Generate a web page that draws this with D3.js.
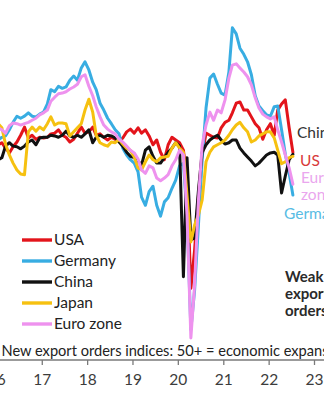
<!DOCTYPE html>
<html>
<head>
<meta charset="utf-8">
<script src="https://cdn.jsdelivr.net/npm/d3@7"></script>
<style>
  body { margin: 0; background: #fff; }
  svg { display: block; font-family: Lato, "Open Sans", sans-serif; }
</style>
</head>
<body>
<svg id="chart" width="324" height="400"></svg>
<script>
// Monthly new export orders PMI sub-indices, Jan 2016 – Jul 2022
const startYear = 2016;
const yearTicks = ["16", "17", "18", "19", "20", "21", "22", "23"];

const usa = [49.3,49.6,48.8,48.1,49.0,49.7,50.7,51.9,50.3,50.7,50.1,50.4,
  50.3,50.4,50.9,51.0,51.5,50.7,50.4,49.7,50.1,51.0,51.9,51.0,
  51.2,51.9,50.7,50.9,50.4,50.0,50.4,50.1,49.9,50.3,51.2,51.6,
  51.0,51.8,51.0,51.5,50.6,49.3,50.0,48.2,47.1,49.3,50.4,50.0,
  49.6,48.5,44.4,28.2,33.8,41.9,47.8,51.0,50.7,50.4,50.3,51.8,
  52.6,52.9,54.0,55.4,55.6,54.4,54.4,53.4,52.4,51.8,50.1,51.5,
  52.4,50.7,54.4,55.3,55.9,51.8,48.2];

const germany = [50.0,50.4,50.6,51.5,52.6,53.5,53.2,53.5,54.0,53.5,53.4,53.8,
  54.1,55.3,57.4,57.1,57.9,57.6,57.8,58.8,59.4,58.8,60.6,61.5,
  60.3,58.5,57.4,55.4,54.4,53.2,52.4,51.5,50.9,48.8,47.8,47.1,
  46.6,45.3,41.6,40.4,42.4,43.2,40.4,38.8,40.9,41.5,42.9,44.1,
  46.2,46.6,39.0,22.1,27.9,37.5,47.1,54.7,59.1,59.7,58.2,56.9,
  56.6,60.0,66.5,65.6,63.5,62.6,61.5,59.6,56.5,55.0,54.3,53.7,
  53.5,54.9,55.0,51.5,47.9,45.1,41.9];

const china = [47.1,47.4,49.1,49.6,49.1,49.0,48.7,49.1,49.7,50.0,49.3,50.3,
  50.4,50.4,50.7,50.6,50.4,50.7,51.3,50.6,50.4,50.7,50.4,50.9,
  51.5,49.6,50.4,50.7,50.4,50.7,50.6,50.3,49.7,49.1,48.2,47.6,
  47.4,46.9,46.3,48.5,49.0,47.6,46.6,46.6,47.4,48.2,48.8,49.6,
  49.1,29.9,47.4,35.3,35.6,42.6,48.2,49.3,50.0,50.4,50.7,50.0,
  49.4,49.6,50.0,50.0,48.8,48.1,47.5,46.9,46.2,46.6,47.2,47.8,
  48.1,48.2,47.8,42.2,44.7,47.1,47.9];

const japan = [52.4,51.8,49.4,47.8,46.6,45.6,45.0,44.9,51.2,51.9,51.3,51.9,
  51.5,52.4,53.4,52.2,52.5,52.5,52.4,50.6,51.2,51.8,52.4,54.4,
  56.0,54.1,50.7,49.6,49.3,49.1,49.7,49.6,50.1,49.4,48.8,48.5,
  47.5,45.9,45.6,46.8,47.8,47.1,46.8,47.4,47.5,47.6,48.8,49.6,
  48.8,48.2,41.9,35.0,37.5,39.0,41.2,46.8,48.2,49.0,49.3,49.6,
  50.0,50.7,51.5,52.2,52.6,51.8,51.2,49.7,50.0,50.6,50.9,51.2,
  51.2,50.3,48.5,46.5,46.8,47.4,47.6];

const euroZone = [51.8,51.5,51.0,52.1,52.5,52.4,52.2,52.4,52.6,52.9,53.2,53.7,
  54.0,54.4,55.7,56.3,56.8,56.9,57.1,57.5,57.8,58.2,59.3,59.6,
  57.9,56.5,54.9,53.4,52.2,51.6,51.2,50.9,50.1,49.7,49.1,48.5,
  48.1,47.2,45.6,45.1,46.2,45.9,44.4,44.0,44.4,44.9,46.2,47.1,
  48.5,47.8,39.0,20.9,28.7,41.2,49.3,52.2,54.1,52.9,54.4,54.0,
  55.9,59.1,61.0,61.2,60.6,60.0,59.3,58.1,56.2,54.7,53.8,53.4,
  53.1,53.4,51.5,49.7,47.8,45.9,43.5];

const seriesNames = ["USA", "Germany", "China", "Japan", "Euro zone"];
const seriesColors = ["#e3141b", "#38ade2", "#111111", "#f6c110", "#ee92ee"];
const seriesValues = [usa, germany, china, japan, euroZone];

// monthly points plotted mid-month
const dates = usa.map((_, i) => new Date(startYear, i, 15));

const svg = d3.select("#chart");

const x = d3.scaleTime()
  .domain([new Date(2016, 0, 1), new Date(2023, 0, 1)])
  .range([-3.7, 314]);
const y = d3.scaleLinear().domain([20, 70]).range([344, 4]);

const line = d3.line()
  .x((d, i) => x(dates[i]))
  .y(d => y(d));

// series lines
svg.append("g")
  .selectAll("path")
  .data(seriesValues)
  .join("path")
  .attr("d", line)
  .attr("fill", "none")
  .attr("stroke", (d, i) => seriesColors[i])
  .attr("stroke-width", 3)
  .attr("stroke-linejoin", "round")
  .attr("stroke-linecap", "round");

// x axis
const axisY = 360;
const xAxis = d3.axisBottom(x)
  .tickValues(yearTicks.map((t, i) => new Date(startYear + i, 0, 1)))
  .tickFormat((d, i) => yearTicks[i])
  .tickSize(5)
  .tickSizeOuter(0);

const gx = svg.append("g").attr("transform", `translate(0,${axisY})`).call(xAxis);
gx.select(".domain").remove();
gx.selectAll(".tick line").attr("stroke", "#7a7a7a").attr("stroke-width", 1.3);
gx.selectAll(".tick text")
  .attr("y", 14)
  .attr("fill", "#3c3c3c")
  .style("font-family", "Lato, sans-serif")
  .style("font-size", "15.5px");
gx.append("line")
  .attr("x1", 0).attr("x2", 324)
  .attr("stroke", "#7a7a7a").attr("stroke-width", 1.3);

// caption above the axis
const caption = svg.append("text")
  .attr("x", 1.5).attr("y", 356)
  .attr("fill", "#222")
  .style("font-size", "15px")
  .text("New export orders indices: 50+ = economic expansion");
const prefix = "New export orders indices: 50+ = economic expan".length;
const w = caption.node().getSubStringLength(0, prefix);
caption.style("font-size", (15 * 321 / w) + "px");

// legend
const legend = svg.append("g")
  .selectAll("g")
  .data(seriesNames)
  .join("g")
  .attr("transform", (d, i) => `translate(0,${240 + i * 21})`);
legend.append("line")
  .attr("x1", 22).attr("x2", 52)
  .attr("stroke", (d, i) => seriesColors[i])
  .attr("stroke-width", 3.4);
legend.append("text")
  .attr("x", 54).attr("dy", "0.35em")
  .attr("fill", "#222")
  .style("font-size", "15.5px")
  .text(d => d);

// end-of-line labels
const endLabels = [
  { text: "China", x: 297, y: 138, color: "#333" },
  { text: "US", x: 300, y: 166, color: "#d83a3a" },
  { text: "Euro", x: 301, y: 183, color: "#eaa6ee" },
  { text: "zone", x: 301, y: 200, color: "#eaa6ee" },
  { text: "Germany", x: 284, y: 219, color: "#58bce4" }
];
svg.append("g")
  .selectAll("text")
  .data(endLabels)
  .join("text")
  .attr("x", d => d.x).attr("y", d => d.y)
  .attr("fill", d => d.color)
  .style("font-size", "15.5px")
  .text(d => d.text);

// note
const note = ["Weak", "export", "orders"];
svg.append("g")
  .selectAll("text")
  .data(note)
  .join("text")
  .attr("x", 285).attr("y", (d, i) => 282 + i * 17)
  .attr("fill", "#2a2a2a")
  .style("font-size", "15px")
  .style("font-weight", "bold")
  .text(d => d);
</script>
</body>
</html>
